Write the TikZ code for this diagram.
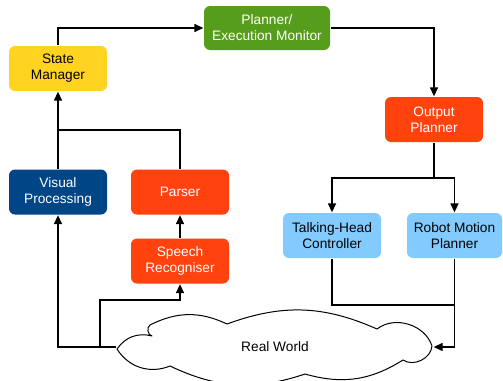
\documentclass[tikz,border=0pt]{standalone}
\usepackage{fontspec}
\setmainfont{Liberation Sans}
\usepackage{tikz}
\usetikzlibrary{arrows.meta,shapes,positioning,calc}
\definecolor{smyellow}{HTML}{FFD320}
\definecolor{plgreen}{HTML}{579D1C}
\definecolor{oporange}{HTML}{FF420E}
\definecolor{vpblue}{HTML}{004586}
\definecolor{ctlblue}{HTML}{83CAFF}
\tikzstyle{block} = [rectangle, rounded corners=6pt, align=center, minimum width=98pt, minimum height=45pt, inner sep=2pt, font=\fontsize{13.7}{16}\selectfont]
\tikzstyle{blockY} = [block, fill=smyellow, text=black]
\tikzstyle{blockG} = [block, fill=plgreen, text=white]
\tikzstyle{blockO} = [block, fill=oporange, text=white]
\tikzstyle{blockB} = [block, fill=vpblue, text=white]
\tikzstyle{blockL} = [block, fill=ctlblue, text=black]
\tikzstyle{world} = [rectangle, minimum width=316pt, minimum height=62pt, inner sep=0pt, font=\fontsize{13.7}{16}\selectfont]
\tikzstyle{puff} = [draw, fill=white, line width=1pt, line join=round]

\begin{document}
\begin{tikzpicture}[x=1pt, y=-1pt, line width=1.3pt, >={Triangle[length=9pt,width=8pt]}]
        \useasboundingbox (0,0) rectangle (503,380);

        \node[blockY] (sm) at (58,68.5) {State\\Manager};
        \node[blockG, minimum width=126pt, minimum height=44pt] (pl) at (267,28) {Planner/\\Execution Monitor};
        \node[blockO] (op) at (434,119.5) {Output\\Planner};

        \node[blockB, below of=sm, node distance=123.5pt] (vp) {Visual\\Processing};
        \node[blockO, right of=vp, node distance=122pt] (pa) {Parser};
        \node[blockO, below of=pa, node distance=69pt] (sr) {Speech\\Recogniser};

        \node[blockL] (th) at (332,235.5) {Talking-Head\\Controller};
        \node[blockL, minimum width=95pt, right of=th, node distance=122.5pt] (rm) {Robot Motion\\Planner};

        % cloud outline
        \path[puff] (117,349) to[bend left=35] (152,336) to[bend left=70] (150,325)
            to[bend left=26] (227,324) to[bend left=22] (377,329) to[bend left=55] (432,346)
            to[bend left=60] (403,360) to[bend left=24] (305,374) to[bend left=22] (170,366)
            to[bend left=40] cycle;
        \node[world] (rw) at (275,347) {Real World};

        \coordinate (split) at (434,178);
        \coordinate (j1) at (58,130);
        \coordinate (j2) at (100,347);
        \coordinate (j3) at (180,300);
        \coordinate (j4) at (455,305);

        \draw[->] (sm.north) |- (pl.west);
        \draw[->] (pl.east) -| (op.north);
        \draw (op.south) -- (split);
        \draw[->] (split) -| (th.north);
        \draw[->] (split) -| (rm.north);

        \draw[->] (vp.north) -- (sm.south);
        \draw (pa.north) |- (j1);
        \draw[->] (sr.north) -- (pa.south);

        \draw[->] (rw.west) -| (vp.south);
        \draw[->] (j2) |- (j3) -- (sr.south);

        \draw (th.south) |- (j4);
        \draw[->] (rm.south) |- (rw.east);
    \end{tikzpicture}
\end{document}
